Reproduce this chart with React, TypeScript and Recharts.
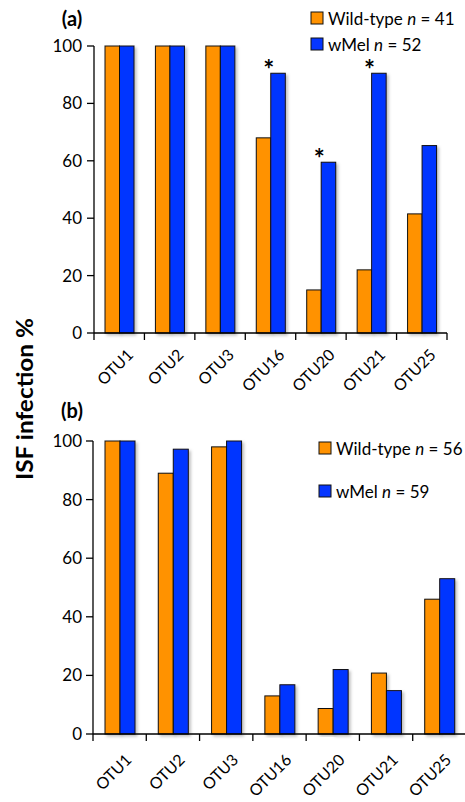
import React from "react";
import { BarChart, Bar, XAxis, YAxis, LabelList } from "recharts";

const otus = ["OTU1", "OTU2", "OTU3", "OTU16", "OTU20", "OTU21", "OTU25"];

// panel (a)
const wildTypeA = [100, 100, 100, 68, 15, 22, 41.5];
const wMelA = [100, 100, 100, 90.5, 59.5, 90.5, 65.3];
const starsA = ["", "", "", "*", "*", "*", ""];
const nA = { wt: 41, wm: 52 };

// panel (b)
const wildTypeB = [100, 89, 98, 13, 8.7, 20.8, 46];
const wMelB = [100, 97.2, 100, 16.8, 22, 14.8, 53];
const nB = { wt: 56, wm: 59 };

const yTicks = [0, 20, 40, 60, 80, 100];

const ORANGE = "#FF9200";
const BLUE = "#0636FF";
const FONT = "Lato, 'Open Sans', sans-serif";

const dataA = otus.map((name, i) => ({ name, wt: wildTypeA[i], wm: wMelA[i], star: starsA[i] }));
const dataB = otus.map((name, i) => ({ name, wt: wildTypeB[i], wm: wMelB[i] }));

function BarShape(props: any) {
  const { x, y, width, height, fill } = props;
  if (!height || height <= 0) return null;
  return (
    <rect
      x={x}
      y={y}
      width={width}
      height={height}
      fill={fill}
      stroke="#111"
      strokeWidth={1}
      filter="url(#barShadow)"
    />
  );
}

// ticks sit on category boundaries, labels rotated under the centers
function makeTick(axisY: number, band: number, dx: number, dy: number) {
  return (props: any) => {
    const { x, payload, index } = props;
    const tx = x + dx;
    const ty = axisY + dy;
    return (
      <g>
        <line x1={x - band / 2} x2={x - band / 2} y1={axisY} y2={axisY + 7} stroke="#000" strokeWidth={1.3} />
        {index === otus.length - 1 && (
          <line x1={x + band / 2} x2={x + band / 2} y1={axisY} y2={axisY + 7} stroke="#000" strokeWidth={1.3} />
        )}
        <text
          x={tx}
          y={ty}
          transform={`rotate(-45, ${tx}, ${ty})`}
          textAnchor="end"
          fontSize={16}
          fontFamily={FONT}
          fill="#000"
        >
          {payload.value}
        </text>
      </g>
    );
  };
}

function renderStar(props: any) {
  const { x, y, value } = props;
  if (!value) return null;
  return (
    <text x={x - 2} y={y + 6} textAnchor="middle" fontSize={26} fontWeight={700} fontFamily={FONT} fill="#000">
      {value}
    </text>
  );
}

const ShadowDefs = () => (
  <defs>
    <filter id="barShadow" x="-20%" y="-5%" width="160%" height="115%">
      <feDropShadow dx={2} dy={2} stdDeviation={1.5} floodColor="#000" floodOpacity={0.25} />
    </filter>
  </defs>
);

const yTickStyle = { fontSize: 17, fill: "#000", fontFamily: FONT };

function Legend({ x, y, gap, wt, wm }: { x: number; y: number; gap: number; wt: number; wm: number }) {
  const rows = [
    { color: ORANGE, label: "Wild-type", n: wt },
    { color: BLUE, label: "wMel", n: wm },
  ];
  return (
    <g>
      {rows.map((r, i) => (
        <g key={r.label}>
          <rect x={x} y={y + i * gap} width={12} height={12} fill={r.color} stroke="#111" strokeWidth={1} />
          <text x={x + 17} y={y + i * gap + 13} fontSize={17} fontFamily={FONT} fill="#000">
            {r.label} <tspan fontStyle="italic">n</tspan> = {r.n}
          </text>
        </g>
      ))}
    </g>
  );
}

export default function App() {
  const bandA = (465 - 18 - 94) / otus.length;
  const bandB = (466 - 93) / otus.length;
  return (
    <div style={{ position: "absolute", left: 0, top: 0, width: 465, height: 802, overflow: "hidden", background: "#fff" }}>
      <div style={{ position: "absolute", left: 0, top: 0 }}>
        <BarChart width={465} height={400} data={dataA} margin={{ top: 46, right: 18, bottom: 0, left: 0 }} barGap={0}>
          <ShadowDefs />
          <XAxis
            dataKey="name"
            height={67}
            interval={0}
            axisLine={{ stroke: "#000", strokeWidth: 1.3 }}
            tickLine={false}
            tick={makeTick(333, bandA, 15, 23)}
          />
          <YAxis
            width={94}
            domain={[0, 100]}
            ticks={yTicks}
            axisLine={{ stroke: "#000", strokeWidth: 1.3 }}
            tickLine={{ stroke: "#000", strokeWidth: 1.3 }}
            tickSize={7}
            tickMargin={5}
            tick={yTickStyle}
          />
          <Bar dataKey="wt" fill={ORANGE} barSize={14.5} shape={BarShape} isAnimationActive={false} />
          <Bar dataKey="wm" fill={BLUE} barSize={14.5} shape={BarShape} isAnimationActive={false}>
            <LabelList dataKey="star" content={renderStar} />
          </Bar>
        </BarChart>
      </div>
      <div style={{ position: "absolute", left: 0, top: 400 }}>
        <BarChart width={466} height={402} data={dataB} margin={{ top: 41, right: 0, bottom: 0, left: 0 }} barGap={0}>
          <ShadowDefs />
          <XAxis
            dataKey="name"
            height={68}
            interval={0}
            axisLine={{ stroke: "#000", strokeWidth: 1.3 }}
            tickLine={false}
            tick={makeTick(334, bandB, 13, 27)}
          />
          <YAxis
            width={93}
            domain={[0, 100]}
            ticks={yTicks}
            axisLine={{ stroke: "#000", strokeWidth: 1.3 }}
            tickLine={{ stroke: "#000", strokeWidth: 1.3 }}
            tickSize={7}
            tickMargin={4}
            tick={yTickStyle}
          />
          <Bar dataKey="wt" fill={ORANGE} barSize={15} shape={BarShape} isAnimationActive={false} />
          <Bar dataKey="wm" fill={BLUE} barSize={15} shape={BarShape} isAnimationActive={false} />
        </BarChart>
      </div>
      <svg width={465} height={802} style={{ position: "absolute", left: 0, top: 0, pointerEvents: "none" }}>
        <text x={72} y={26} textAnchor="middle" fontSize={20} fontWeight={700} fontFamily={FONT}>(a)</text>
        <text x={72} y={418} textAnchor="middle" fontSize={20} fontWeight={700} fontFamily={FONT}>(b)</text>
        <text
          x={33}
          y={399}
          transform="rotate(-90, 33, 399)"
          textAnchor="middle"
          fontSize={23}
          fontWeight={700}
          fontFamily={FONT}
          textLength={162}
          lengthAdjust="spacingAndGlyphs"
        >
          ISF infection %
        </text>
        <Legend x={311} y={12} gap={26} wt={nA.wt} wm={nA.wm} />
        <Legend x={319} y={442} gap={43} wt={nB.wt} wm={nB.wm} />
      </svg>
    </div>
  );
}
